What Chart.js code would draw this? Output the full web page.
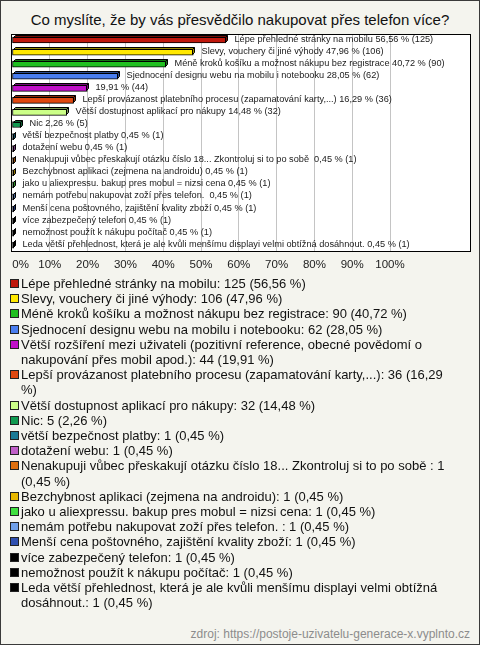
<!DOCTYPE html>
<html>
<head>
<meta charset="utf-8">
<script src="https://cdn.jsdelivr.net/npm/chart.js@4.4.1/dist/chart.umd.min.js"></script>
<style>
  html, body { margin: 0; padding: 0; }
  #frame {
    position: relative; width: 480px; height: 645px; box-sizing: border-box;
    border: 1px solid #3a3a3a; background: #f4f4ee; overflow: hidden;
    font-family: "Liberation Sans", Arial, sans-serif; color: #111;
  }
  #title { position: absolute; left: 0; right: 0; top: 10px; text-align: center; font-size: 15px; line-height: 17px; }
  #chart { position: absolute; left: -1px; top: -1px; }
  #legend { position: absolute; left: 9px; top: 275px; width: 452px; font-size: 13px; line-height: 15.2px; }
  .item { display: flex; align-items: flex-start; }
  .sw { flex: none; width: 7px; height: 7px; border: 1px solid #222; margin: 3px 2px 0 0; }
  #source { position: absolute; right: 9px; top: 626px; font-size: 12px; line-height: 14px; color: #8c8c8c; }
</style>
</head>
<body>
<div id="frame">
  <div id="title">Co myslíte, že by vás přesvědčilo nakupovat přes telefon více?</div>
  <canvas id="chart" width="480" height="279"></canvas>
  <div id="legend"></div>
  <div id="source">zdroj: https://postoje-uzivatelu-generace-x.vyplnto.cz</div>
</div>
<script>
// answers, as they appear in the legend
const categories = [
    "Lépe přehledné stránky na mobilu",
    "Slevy, vouchery či jiné výhody",
    "Méně kroků košíku a možnost nákupu bez registrace",
    "Sjednocení designu webu na mobilu i notebooku",
    "Větší rozšíření mezi uživateli (pozitivní reference, obecné povědomí o nakupování přes mobil apod.)",
    "Lepší provázanost platebního procesu (zapamatování karty,...)",
    "Větší dostupnost aplikací pro nákupy",
    "Nic",
    "větší bezpečnost platby",
    "dotažení webu",
    "Nenakupuji vůbec přeskakují otázku číslo 18... Zkontroluj si to po sobě ",
    "Bezchybnost aplikaci (zejmena na androidu)",
    "jako u aliexpressu. bakup pres mobul = nizsi cena",
    "nemám potřebu nakupovat zoží přes telefon. ",
    "Menší cena poštovného, zajištění kvality zboží",
    "více zabezpečený telefon",
    "nemožnost použít k nákupu počítač",
    "Leda větší přehlednost, která je ale kvůli menšímu displayi velmi obtížná dosáhnout."
];
const counts = [125, 106, 90, 62, 44, 36, 32, 5, 1, 1, 1, 1, 1, 1, 1, 1, 1, 1];
const percents = [56.56, 47.96, 40.72, 28.05, 19.91, 16.29, 14.48, 2.26,
                  0.45, 0.45, 0.45, 0.45, 0.45, 0.45, 0.45, 0.45, 0.45, 0.45];
const colors = [
    "#c0180c", "#ffe800", "#20c020", "#4a7ef0", "#c010c8", "#e04810",
    "#ccff88", "#109a50", "#1a7a96", "#c060c8", "#e07010", "#e8b800",
    "#40e040", "#70a0e8", "#3050b0", "#000000", "#000000", "#000000"
];
// the bar label of this answer shows only the numbers
const noNameOnBar = [4];
const tickValues = [0, 10, 20, 30, 40, 50, 60, 70, 80, 90, 100];
const tickLabels = ["0%", "10%", "20%", "30%", "40%", "50%", "60%", "70%", "80%", "90%", "100%"];

function fmt(n) {
    return n.toFixed(2).replace(".", ",");
}

function darker(hex, f) {
    const n = parseInt(hex.slice(1), 16);
    const r = Math.round(((n >> 16) & 255) * f);
    const g = Math.round(((n >> 8) & 255) * f);
    const b = Math.round((n & 255) * f);
    return `rgb(${r},${g},${b})`;
}

// white plot box, fake 3D top/side of the bars and the text beside them
const plotBox = {
    id: "plotBox",
    beforeDraw(chart) {
        const { ctx, chartArea: a } = chart;
        ctx.save();
        ctx.fillStyle = "#ffffff";
        ctx.fillRect(a.left, a.top, a.right - a.left, a.bottom - a.top);
        ctx.restore();
    },
    afterDatasetsDraw(chart) {
        const ctx = chart.ctx;
        const d = 2;
        ctx.save();
        ctx.lineWidth = 1;
        ctx.strokeStyle = "#000";
        chart.getDatasetMeta(0).data.forEach((bar, i) => {
            const x0 = Math.round(bar.base) + 0.5;
            const x1 = Math.round(bar.x) - 0.5;
            const t = Math.round(bar.y - bar.height / 2) + 0.5;
            const b = Math.round(bar.y + bar.height / 2) - 0.5;
            ctx.fillStyle = darker(colors[i], 0.6);
            ctx.beginPath();
            ctx.moveTo(x0, t);
            ctx.lineTo(x0 + d, t - d);
            ctx.lineTo(x1 + d, t - d);
            ctx.lineTo(x1 + d, b - d);
            ctx.lineTo(x1, b);
            ctx.lineTo(x1, t);
            ctx.closePath();
            ctx.fill();
            ctx.stroke();
            ctx.beginPath();
            ctx.moveTo(x1, t);
            ctx.lineTo(x1 + d, t - d);
            ctx.stroke();

            let text = `${fmt(percents[i])} % (${counts[i]})`;
            if (!noNameOnBar.includes(i)) text = categories[i] + " " + text;
            ctx.fillStyle = "#1a1a1a";
            ctx.font = '9.2px "Liberation Sans", Arial, sans-serif';
            ctx.textBaseline = "middle";
            ctx.fillText(text, x1 + d + 7, bar.y - 1);
        });
        ctx.restore();
    },
    afterDraw(chart) {
        const { ctx, chartArea: a } = chart;
        ctx.save();
        ctx.strokeStyle = "#000";
        ctx.lineWidth = 1;
        ctx.strokeRect(Math.round(a.left) - 0.5, Math.round(a.top) + 0.5,
                       Math.round(a.right - a.left) + 1, Math.round(a.bottom - a.top));
        ctx.restore();
    }
};

new Chart(document.getElementById("chart"), {
    type: "bar",
    data: {
        labels: categories,
        datasets: [{
            data: percents,
            backgroundColor: colors,
            borderColor: "#000",
            borderWidth: 1,
            borderSkipped: false,
            barThickness: 6
        }]
    },
    options: {
        indexAxis: "y",
        responsive: false,
        animation: false,
        devicePixelRatio: 1,
        layout: { padding: { left: 12, right: 10, top: 34, bottom: 0 } },
        scales: {
            x: {
                min: 0,
                max: 121.16,
                afterBuildTicks: (scale) => { scale.ticks = tickValues.map(v => ({ value: v })); },
                afterFit: (scale) => { scale.paddingLeft = 0; scale.paddingRight = 0; },
                border: { display: false },
                grid: {
                    drawTicks: false,
                    color: (c) => (c.tick && c.tick.value > 0 ? "#c4c4c4" : "rgba(0,0,0,0)")
                },
                ticks: {
                    autoSkip: false,
                    maxRotation: 0,
                    padding: 7,
                    color: "#222",
                    font: { family: '"Liberation Sans", Arial, sans-serif', size: 11.5 },
                    // first label sits to the right of the axis start
                    callback: (v, i) => (i === 0 ? "\u2003\u2002" + tickLabels[i] : tickLabels[i])
                }
            },
            y: { display: false }
        },
        plugins: {
            legend: { display: false },
            tooltip: { enabled: false }
        }
    },
    plugins: [plotBox]
});

const legendEl = document.getElementById("legend");
categories.forEach((name, i) => {
    const row = document.createElement("div");
    row.className = "item";
    const sw = document.createElement("span");
    sw.className = "sw";
    sw.style.background = colors[i];
    const txt = document.createElement("span");
    txt.textContent = `${name}: ${counts[i]} (${fmt(percents[i])} %)`;
    row.appendChild(sw);
    row.appendChild(txt);
    legendEl.appendChild(row);
});
</script>
</body>
</html>
